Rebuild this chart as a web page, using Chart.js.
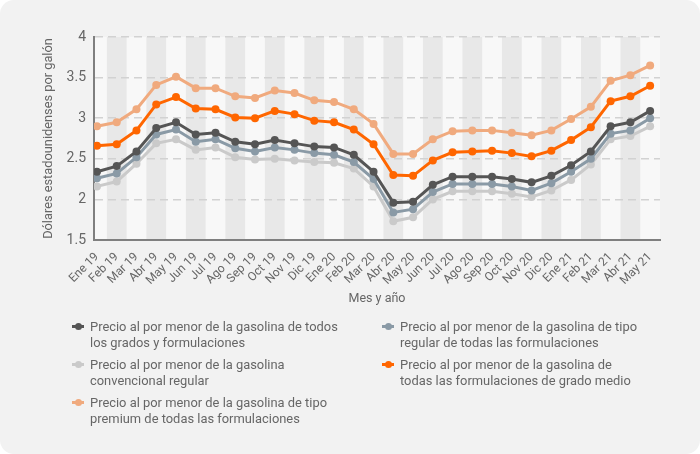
<!DOCTYPE html>
<html>
<head>
<meta charset="utf-8">
<script src="https://cdn.jsdelivr.net/npm/chart.js@4"></script>
<style>
  html, body { margin: 0; padding: 0; background: #ffffff; }
  #card { position: relative; width: 700px; height: 454px; background: #f2f2f2; border-radius: 14px; overflow: hidden; font-family: Roboto, "Noto Sans", sans-serif; }
  #c { position: absolute; left: 0; top: 0; }
  .leg { position: absolute; color: #666; font-size: 12.9px; line-height: 15.5px; width: 290px; white-space: nowrap; }
  .mk { position: absolute; width: 12px; height: 3px; }
  .mk span { position: absolute; left: 3px; top: -2.5px; width: 7px; height: 7px; border-radius: 50%; }
</style>
</head>
<body>
<div id="card">
  <canvas id="c" width="700" height="454"></canvas>
  <div id="legend"></div>
</div>
<script>
const months = ["Ene 19","Feb 19","Mar 19","Abr 19","May 19","Jun 19","Jul 19","Ago 19","Sep 19","Oct 19","Nov 19","Dic 19",
  "Ene 20","Feb 20","Mar 20","Abr 20","May 20","Jun 20","Jul 20","Ago 20","Sep 20","Oct 20","Nov 20","Dic 20",
  "Ene 21","Feb 21","Mar 21","Abr 21","May 21"];

const allGrades = [2.34,2.41,2.59,2.88,2.95,2.80,2.82,2.71,2.68,2.73,2.69,2.65,
  2.64,2.55,2.34,1.96,1.97,2.18,2.28,2.28,2.28,2.25,2.21,2.29,
  2.42,2.59,2.90,2.95,3.09];
const regularAll = [2.26,2.32,2.52,2.80,2.86,2.71,2.74,2.63,2.59,2.64,2.61,2.57,
  2.55,2.46,2.25,1.84,1.88,2.09,2.19,2.19,2.19,2.16,2.11,2.20,
  2.34,2.50,2.81,2.85,3.00];
const conventional = [2.16,2.22,2.44,2.69,2.74,2.61,2.64,2.52,2.49,2.50,2.48,2.46,
  2.45,2.38,2.16,1.73,1.78,2.00,2.10,2.10,2.10,2.07,2.03,2.11,
  2.24,2.43,2.74,2.78,2.90];
const midgrade = [2.66,2.68,2.85,3.17,3.26,3.12,3.11,3.01,3.00,3.09,3.05,2.97,
  2.95,2.86,2.68,2.30,2.29,2.48,2.58,2.59,2.60,2.57,2.53,2.60,
  2.73,2.89,3.21,3.27,3.40];
const premium = [2.90,2.95,3.11,3.41,3.51,3.37,3.37,3.27,3.25,3.34,3.31,3.22,
  3.20,3.11,2.93,2.56,2.56,2.74,2.84,2.85,2.85,2.82,2.79,2.85,
  2.99,3.14,3.46,3.53,3.65];

const yTicks = [1.5, 2, 2.5, 3, 3.5, 4];
const yTickLabels = ["1.5", "2", "2.5", "3", "3.5", "4"];

const seriesNames = [
  "Precio al por menor de la gasolina de todos los grados y formulaciones",
  "Precio al por menor de la gasolina de tipo regular de todas las formulaciones",
  "Precio al por menor de la gasolina convencional regular",
  "Precio al por menor de la gasolina de todas las formulaciones de grado medio",
  "Precio al por menor de la gasolina de tipo premium de todas las formulaciones"
];
const legendLines = [
  ["Precio al por menor de la gasolina de todos", "los grados y formulaciones"],
  ["Precio al por menor de la gasolina de tipo", "regular de todas las formulaciones"],
  ["Precio al por menor de la gasolina", "convencional regular"],
  ["Precio al por menor de la gasolina de", "todas las formulaciones de grado medio"],
  ["Precio al por menor de la gasolina de tipo", "premium de todas las formulaciones"]
];
const seriesValues = [allGrades, regularAll, conventional, midgrade, premium];
const seriesColors = ["#555555", "#8a9aa6", "#cacaca", "#ff6600", "#f0aa7e"];

function toXY(arr) { return arr.map((v, i) => ({x: i, y: v})); }

const datasets = seriesValues.map((vals, k) => ({
  label: seriesNames[k],
  data: toXY(vals),
  borderColor: seriesColors[k],
  backgroundColor: seriesColors[k],
  borderWidth: 3,
  pointRadius: 4,
  pointHoverRadius: 4,
  pointBorderWidth: 0,
  tension: 0,
  order: [2, 3, 4, 1, 0][k]
}));

const bandPlugin = {
  id: 'bands',
  beforeDraw(chart) {
    const {ctx, chartArea, scales} = chart;
    const xs = scales.x;
    ctx.save();
    ctx.fillStyle = '#f8f8f8';
    ctx.fillRect(chartArea.left, chartArea.top, chartArea.right - chartArea.left, chartArea.bottom - chartArea.top);
    ctx.fillStyle = '#e8e8e8';
    for (let i = 0; i < months.length; i++) {
      if (i % 2 === 1) {
        let a = Math.max(chartArea.left, xs.getPixelForValue(i - 0.5));
        let b = Math.min(chartArea.right, xs.getPixelForValue(i + 0.5));
        ctx.fillRect(a, chartArea.top, b - a, chartArea.bottom - chartArea.top);
      }
    }
    ctx.restore();
  }
};

new Chart(document.getElementById('c'), {
  type: 'line',
  data: { datasets },
  plugins: [bandPlugin],
  options: {
    responsive: false,
    animation: false,
    layout: { padding: { left: 37, top: 37, right: 40, bottom: 144 } },
    plugins: { legend: { display: false }, tooltip: { enabled: false } },
    scales: {
      x: {
        type: 'linear',
        min: -0.15,
        max: 28.5,
        afterBuildTicks(scale) { scale.ticks = months.map((m, i) => ({value: i})); },
        afterFit(scale) { scale.height = 70; },
        ticks: {
          autoSkip: false,
          minRotation: 45,
          maxRotation: 45,
          color: '#666',
          font: { family: 'Roboto', size: 12 },
          padding: 2,
          callback: (v) => months[v]
        },
        grid: { display: false },
        border: { display: true, color: '#7f7f7f', width: 2 },
        title: { display: true, text: 'Mes y año', color: '#666', font: { family: 'Roboto', size: 12.5 }, padding: { top: 4, bottom: 4 } }
      },
      y: {
        min: 1.5,
        max: 4,
        afterBuildTicks(scale) { scale.ticks = yTicks.map(v => ({value: v})); },
        afterFit(scale) { scale.width = 57; },
        ticks: {
          color: '#666', font: { family: 'Roboto', size: 14 }, padding: 8,
          callback: (v) => yTickLabels[yTicks.indexOf(v)]
        },
        grid: { color: '#d2d2d2', lineWidth: 1.5, drawTicks: false },
        border: { display: true, color: '#7f7f7f', width: 2, dash: [8, 5] },
        title: { display: true, text: 'Dólares estadounidenses por galón', color: '#666', font: { family: 'Roboto', size: 12.8 }, padding: { top: 4, bottom: 4 } }
      }
    }
  }
});

// HTML legend
const legPos = [
  {x: 72, y: 319}, {x: 382, y: 319},
  {x: 72, y: 357}, {x: 382, y: 357},
  {x: 72, y: 395}
];
const legEl = document.getElementById('legend');
legPos.forEach((p, k) => {
  const mk = document.createElement('div');
  mk.className = 'mk';
  mk.style.left = p.x + 'px';
  mk.style.top = (p.y + 6) + 'px';
  mk.style.background = seriesColors[k];
  const dot = document.createElement('span');
  dot.style.background = seriesColors[k];
  mk.appendChild(dot);
  legEl.appendChild(mk);
  const t = document.createElement('div');
  t.className = 'leg';
  t.style.left = (p.x + 18) + 'px';
  t.style.top = p.y + 'px';
  t.innerHTML = legendLines[k].join('<br>');
  legEl.appendChild(t);
});
</script>
</body>
</html>
